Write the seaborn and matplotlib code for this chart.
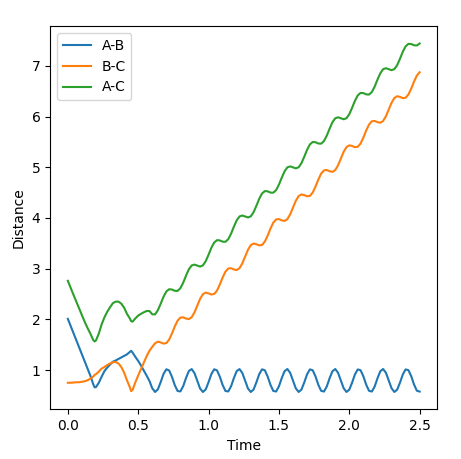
import numpy as np
import pandas as pd
import matplotlib
matplotlib.use("Agg")
import matplotlib.pyplot as plt
import seaborn as sns

# time samples: 0.00 .. 2.50 every 0.02, plus two extra samples at sharp turns
time = np.sort(np.concatenate([np.round(np.linspace(0.0, 2.5, 126), 2), [0.19, 0.45]]))

dist_ab = [
    2.01, 1.87, 1.73, 1.59, 1.45, 1.31, 1.17, 1.03, 0.89, 0.725, 0.66,
    0.665, 0.75, 0.87, 0.98, 1.05, 1.11, 1.165, 1.19, 1.22, 1.25,
    1.28, 1.31, 1.355, 1.38, 1.345, 1.26, 1.18, 1.09, 0.99, 0.89, 0.785, 0.64,
    0.568, 0.622, 0.765, 0.925, 1.016, 0.993, 0.866, 0.702, 0.587, 0.580,
    0.685, 0.847, 0.982, 1.020, 0.940, 0.785, 0.635, 0.568, 0.620, 0.763,
    0.922, 1.016, 0.994, 0.869, 0.705, 0.588, 0.579, 0.682, 0.844, 0.981,
    1.020, 0.942, 0.788, 0.637, 0.568, 0.618, 0.760, 0.920, 1.015, 0.996,
    0.872, 0.708, 0.589, 0.578, 0.680, 0.842, 0.979, 1.021, 0.945, 0.791,
    0.639, 0.569, 0.616, 0.757, 0.917, 1.014, 0.997, 0.874, 0.710, 0.591,
    0.577, 0.677, 0.839, 0.977, 1.021, 0.947, 0.794, 0.641, 0.569, 0.614,
    0.754, 0.915, 1.013, 0.998, 0.877, 0.713, 0.592, 0.577, 0.675, 0.836,
    0.976, 1.021, 0.949, 0.797, 0.643, 0.569, 0.613, 0.751, 0.912, 1.013,
    0.999, 0.880, 0.716, 0.593, 0.576,
]

dist_bc = [
    0.75, 0.75, 0.755, 0.76, 0.76, 0.77, 0.78, 0.80, 0.83, 0.87, 0.905,
    0.92, 0.97, 1.03, 1.06, 1.10, 1.13, 1.155, 1.16, 1.13, 1.06,
    0.95, 0.80, 0.665, 0.585, 0.61, 0.76, 0.895, 1.02, 1.15, 1.275, 1.38, 1.46,
    1.530, 1.560, 1.545, 1.522, 1.533, 1.602, 1.722, 1.861, 1.975, 2.036,
    2.040, 2.016, 2.005, 2.043, 2.140, 2.275, 2.406, 2.497, 2.528, 2.513,
    2.490, 2.501, 2.568, 2.688, 2.826, 2.942, 3.003, 3.009, 2.984, 2.973,
    3.010, 3.106, 3.240, 3.373, 3.464, 3.496, 3.482, 3.459, 3.468, 3.535,
    3.653, 3.792, 3.908, 3.971, 3.977, 3.953, 3.941, 3.977, 4.072, 4.206,
    4.339, 4.431, 4.464, 4.450, 4.427, 4.435, 4.501, 4.619, 4.758, 4.875,
    4.938, 4.945, 4.921, 4.909, 4.944, 5.038, 5.171, 5.305, 5.398, 5.432,
    5.419, 5.395, 5.403, 5.467, 5.585, 5.724, 5.841, 5.906, 5.913, 5.890,
    5.877, 5.911, 6.004, 6.137, 6.270, 6.364, 6.400, 6.387, 6.363, 6.370,
    6.434, 6.550, 6.689, 6.808, 6.873,
]

dist_ac = [
    2.76, 2.62, 2.485, 2.35, 2.21, 2.08, 1.95, 1.83, 1.72, 1.595, 1.565,
    1.585, 1.72, 1.90, 2.04, 2.15, 2.24, 2.32, 2.35, 2.35, 2.31,
    2.23, 2.11, 2.02, 1.965, 1.955, 2.02, 2.075, 2.11, 2.14, 2.165, 2.165, 2.10,
    2.098, 2.182, 2.310, 2.447, 2.550, 2.595, 2.588, 2.563, 2.562, 2.616,
    2.725, 2.863, 2.988, 3.063, 3.080, 3.060, 3.041, 3.065, 3.148, 3.276,
    3.413, 3.516, 3.562, 3.557, 3.532, 3.530, 3.582, 3.691, 3.829, 3.954,
    4.030, 4.048, 4.028, 4.010, 4.032, 4.114, 4.241, 4.378, 4.483, 4.530,
    4.525, 4.500, 4.498, 4.549, 4.657, 4.794, 4.920, 4.998, 5.017, 4.997,
    4.978, 4.999, 5.080, 5.207, 5.344, 5.450, 5.498, 5.493, 5.468, 5.465,
    5.516, 5.623, 5.760, 5.886, 5.965, 5.985, 5.965, 5.946, 5.966, 6.046,
    6.173, 6.310, 6.416, 6.466, 6.462, 6.437, 6.433, 6.482, 6.588, 6.726,
    6.852, 6.932, 6.953, 6.934, 6.914, 6.934, 7.012, 7.138, 7.276, 7.383,
    7.433, 7.430, 7.405, 7.401, 7.440,
]

series_names = ["A-B", "B-C", "A-C"]

fig = plt.figure(figsize=(4.61, 4.59), dpi=100)
ax = fig.add_axes([0.109, 0.108, 0.8395, 0.8352])

for name, vals in zip(series_names, [dist_ab, dist_bc, dist_ac]):
    sns.lineplot(x=time, y=vals, ax=ax, label=name, linewidth=1.5)

ax.set_xlabel("Time")
ax.set_ylabel("Distance")
ax.set_xticks([0.0, 0.5, 1.0, 1.5, 2.0, 2.5])
ax.legend(loc="upper left")

fig.savefig("out.png", dpi=100)
